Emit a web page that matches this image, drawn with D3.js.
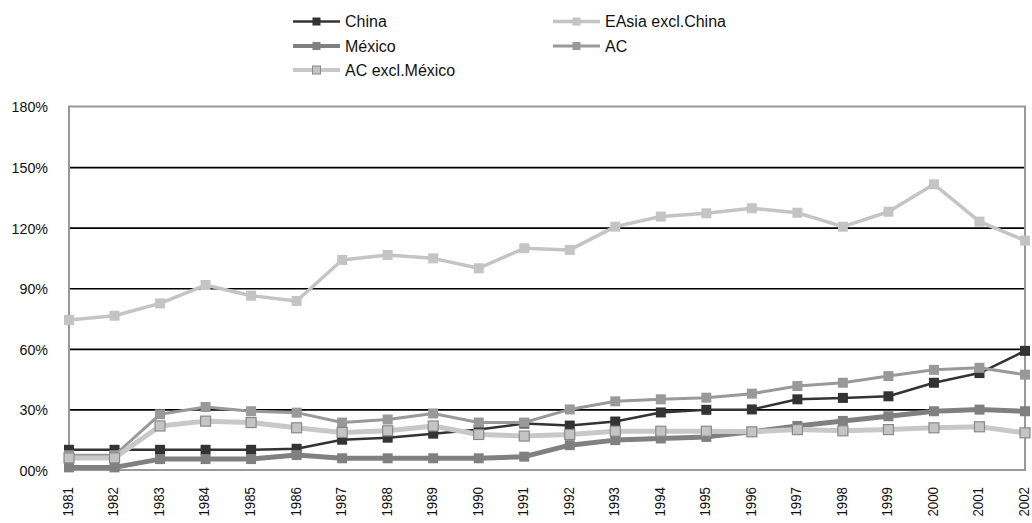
<!DOCTYPE html>
<html>
<head>
<meta charset="utf-8">
<script src="https://cdn.jsdelivr.net/npm/d3@7"></script>
<style>
  html, body { margin: 0; padding: 0; background: #fff; }
  svg { display: block; font-family: "Liberation Sans", Arial, sans-serif; }
</style>
</head>
<body>
<svg id="chart" width="1032" height="523"></svg>
<script>
// Years on the horizontal axis
const years = ["1981","1982","1983","1984","1985","1986","1987","1988","1989","1990","1991",
               "1992","1993","1994","1995","1996","1997","1998","1999","2000","2001","2002"];

// Series values, in percent
const china      = [10, 10, 10, 10, 10, 10.5, 15, 16, 18, 20, 23, 22, 24, 28.5, 29.8, 30, 35, 35.7, 36.5, 43.2, 48, 59];
const eAsiaExCn  = [74.3, 76.4, 82.5, 91.6, 86.3, 83.7, 104, 106.5, 104.8, 99.9, 109.8, 109, 120.5, 125.5, 127.1, 129.6, 127.4, 120.5, 127.9, 141.5, 123, 113.6];
const mexico     = [1.3, 1.3, 5.4, 5.4, 5.4, 7.4, 5.8, 5.8, 5.8, 5.8, 6.6, 12.3, 14.8, 15.6, 16.4, 18.9, 21.8, 24.3, 26.6, 29.1, 29.9, 29.1];
const ac         = [7.3, 7.3, 27.6, 31.2, 29.1, 28.4, 23.5, 25, 28, 23.5, 23.5, 30, 34, 35, 35.8, 37.8, 41.6, 43.2, 46.5, 49.6, 50.6, 47.2];
const acExMexico = [6, 6, 21.8, 24.2, 23.5, 20.9, 18.6, 19.4, 21.8, 17.6, 16.8, 17.6, 19.2, 19.2, 19.2, 18.9, 20, 19.4, 20, 20.9, 21.4, 18.4];

// Series names (legend)
const seriesNames = ["China", "EAsia excl.China", "México", "AC", "AC excl.México"];

// Value-axis ticks and their labels
const yTicks = [0, 30, 60, 90, 120, 150, 180];
const yTickLabels = ["00%", "30%", "60%", "90%", "120%", "150%", "180%"];

// Line/marker styling per series, in legend order
const styles = [
  { line: "#333333", width: 2.5, fill: "#333333", stroke: "#333333" },
  { line: "#c4c4c4", width: 3.5, fill: "#c4c4c4", stroke: "#c4c4c4" },
  { line: "#808080", width: 5,   fill: "#808080", stroke: "#808080" },
  { line: "#999999", width: 3,   fill: "#999999", stroke: "#999999" },
  { line: "#c8c8c8", width: 5,   fill: "#c4c4c4", stroke: "#8a8a8a" }
];

const seriesValues = [china, eAsiaExCn, mexico, ac, acExMexico];
const series = seriesNames.map((name, i) => ({
  name,
  style: styles[i],
  points: years.map((yr, j) => ({ year: yr, value: seriesValues[i][j] }))
}));

const svg = d3.select("#chart");

const plot = { left: 69, right: 1025, top: 106.5, bottom: 470 };

const x = d3.scalePoint().domain(years).range([plot.left, plot.right]);
const y = d3.scaleLinear().domain([0, 180]).range([plot.bottom, plot.top]);

// Horizontal gridlines (black)
svg.append("g")
  .attr("transform", `translate(${plot.left},0)`)
  .call(d3.axisLeft(y).tickValues(yTicks.filter(v => v > 0 && v < 180))
        .tickSize(-(plot.right - plot.left)).tickFormat(""))
  .call(g => g.select(".domain").remove())
  .call(g => g.selectAll("line").attr("stroke", "#000").attr("stroke-width", 1.6));

// Plot frame (grey)
svg.append("rect")
  .attr("x", plot.left).attr("y", plot.top)
  .attr("width", plot.right - plot.left).attr("height", plot.bottom - plot.top)
  .attr("fill", "none").attr("stroke", "#999").attr("stroke-width", 2);

// Y-axis labels
svg.append("g")
  .attr("transform", `translate(${plot.left},0)`)
  .call(d3.axisLeft(y).tickValues(yTicks).tickSize(0).tickPadding(0)
        .tickFormat((d, i) => yTickLabels[i]))
  .call(g => g.select(".domain").remove())
  .call(g => g.selectAll("text")
      .attr("font-size", 15.5)
      .attr("fill", "#111")
      .attr("font-family", "'Liberation Sans', Arial, sans-serif")
      .attr("text-anchor", "end")
      .attr("x", 0)
      .attr("dy", "0.35em")
      .attr("transform", "translate(-21,0) scale(0.92,1)"));

// X-axis labels, rotated
svg.append("g")
  .attr("transform", `translate(0,${plot.bottom})`)
  .call(d3.axisBottom(x).tickSize(0).tickPadding(0))
  .call(g => g.select(".domain").remove())
  .call(g => g.selectAll("text")
      .attr("font-size", 15.5)
      .attr("fill", "#111")
      .attr("font-family", "'Liberation Sans', Arial, sans-serif")
      .attr("text-anchor", "end")
      .attr("x", 0).attr("y", 0)
      .attr("dy", "0.35em")
      .attr("transform", "translate(-2,17) rotate(-90) scale(0.86,1)"));

// Series lines and markers
const lineGen = d3.line().x(d => x(d.year)).y(d => y(d.value));
const msize = 10;

const sg = svg.append("g").selectAll("g.series").data(series).join("g").attr("class", "series");
sg.append("path")
  .attr("d", d => lineGen(d.points))
  .attr("fill", "none")
  .attr("stroke", d => d.style.line)
  .attr("stroke-width", d => d.style.width)
  .attr("stroke-linejoin", "round");
sg.selectAll("rect")
  .data(d => d.points.map(p => ({ ...p, style: d.style })))
  .join("rect")
  .attr("x", d => x(d.year) - msize / 2)
  .attr("y", d => y(d.value) - msize / 2)
  .attr("width", msize).attr("height", msize)
  .attr("fill", d => d.style.fill)
  .attr("stroke", d => d.style.stroke)
  .attr("stroke-width", d => d.style.stroke === d.style.fill ? 0 : 1.2);

// Legend
const legendPos = [
  { x: 293, y: 21.5 },
  { x: 553, y: 21.5 },
  { x: 293, y: 46 },
  { x: 553, y: 46 },
  { x: 293, y: 70 }
];
const lg = svg.append("g").selectAll("g.legend").data(series).join("g")
  .attr("class", "legend")
  .attr("transform", (d, i) => `translate(${legendPos[i].x},${legendPos[i].y})`);
lg.append("line")
  .attr("x1", 0).attr("x2", 47).attr("y1", 0).attr("y2", 0)
  .attr("stroke", d => d.style.line)
  .attr("stroke-width", d => Math.min(d.style.width, 4));
lg.append("rect")
  .attr("x", 19.5).attr("y", -4).attr("width", 8).attr("height", 8)
  .attr("fill", d => d.style.fill)
  .attr("stroke", d => d.style.stroke)
  .attr("stroke-width", d => d.style.stroke === d.style.fill ? 0 : 1);
lg.append("text")
  .attr("x", 52).attr("y", 0).attr("dy", "0.35em")
  .attr("font-size", 16)
  .attr("fill", "#111")
  .text(d => d.name);
</script>
</body>
</html>
